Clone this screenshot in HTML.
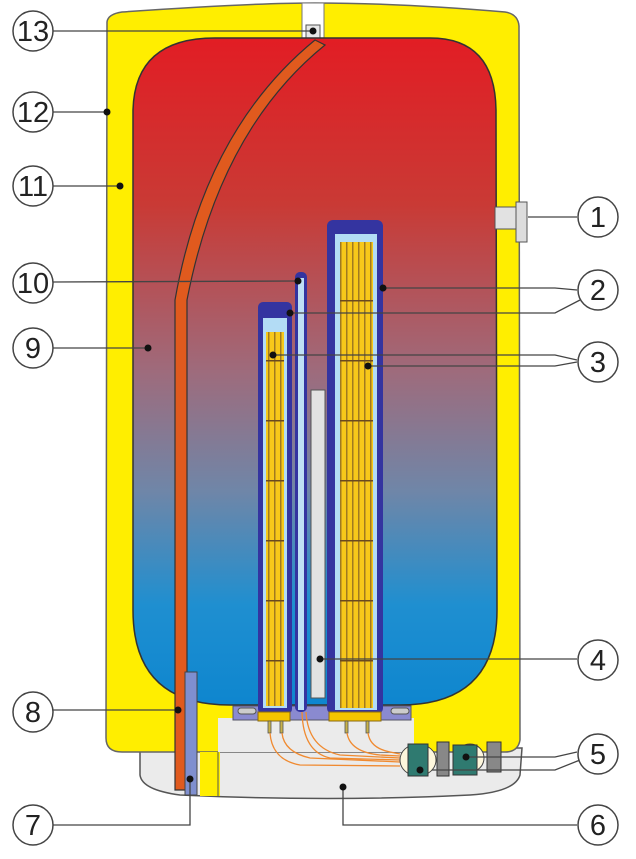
<!DOCTYPE html>
<html><head><meta charset="utf-8"><style>
html,body{margin:0;padding:0;background:#fff;}
svg{display:block;}
text{font-family:"Liberation Sans",sans-serif;font-size:29px;fill:#222;text-anchor:middle;}
</style></head><body>
<svg width="636" height="859" viewBox="0 0 636 859" xmlns="http://www.w3.org/2000/svg">
<defs>
<linearGradient id="tank" x1="0" y1="0" x2="0" y2="1">
<stop offset="0" stop-color="#e21d24"/>
<stop offset="0.25" stop-color="#c93a35"/>
<stop offset="0.5" stop-color="#9e6b7c"/>
<stop offset="0.68" stop-color="#6f86a8"/>
<stop offset="0.85" stop-color="#1f8fd0"/>
<stop offset="1" stop-color="#0e86cf"/>
</linearGradient>
<pattern id="coil" width="6" height="60" patternUnits="userSpaceOnUse">
<rect width="6" height="60" fill="#f7c81a"/>
<rect x="4" width="1.5" height="60" fill="#a07a20"/>
<rect y="0" width="6" height="1.5" fill="#6a4a20"/>
</pattern>
</defs>
<!-- base -->
<path d="M140 748 L522 748 L520 775 Q515 792 470 795 Q330 802 180 795 Q142 790 140 775 Z" fill="#ebebeb" stroke="#555" stroke-width="1.5"/>
<!-- outer body -->
<path d="M107 22 Q108 14 122 12 Q250 3 315 3 Q400 3 505 12 Q518 14 519 26 L520 740 Q518 752 505 752 L122 752 Q106 752 106 738 Z" fill="#ffee00" stroke="#666" stroke-width="1.5"/>
<rect x="302" y="3" width="22" height="36" fill="#fff" stroke="#777" stroke-width="1"/>
<rect x="306" y="25" width="14" height="13" fill="#e8e8e8" stroke="#555" stroke-width="1"/>
<!-- tank -->
<path d="M215 38 L430 38 Q495 38 496 110 L497 610 Q497 705 400 705 L230 705 Q133 705 133 610 L133 110 Q135 38 215 38 Z" fill="url(#tank)" stroke="#333" stroke-width="1.5"/>
<!-- bottom area -->
<rect x="218" y="718" width="196" height="34" fill="#ebebeb"/>
<rect x="200" y="752" width="20" height="44" fill="#ffee00"/>
<line x1="218" y1="752" x2="218" y2="796" stroke="#555"/>
<rect x="233" y="706" width="178" height="14" fill="#8a8ad0" stroke="#556" stroke-width="1"/>
<rect x="238" y="708" width="18" height="6" rx="3" fill="#ccc" stroke="#555"/>
<rect x="391" y="708" width="18" height="6" rx="3" fill="#ccc" stroke="#555"/>
<!-- pipe 9 -->
<path d="M315 40 L325 45 Q220 130 187 300 L187 790 L175 790 L175 300 Q205 130 315 40 Z" fill="#e05a1e" stroke="#333" stroke-width="1.2"/>
<!-- pipe 7 -->
<rect x="185" y="672" width="12" height="123" fill="#7f8fcf" stroke="#444" stroke-width="1"/>
<!-- left heater -->
<rect x="258" y="302" width="34" height="412" rx="5" fill="#3434a0"/>
<rect x="263" y="318" width="24" height="390" fill="#b3dcf5"/>
<rect x="266" y="332" width="18" height="374" fill="url(#coil)"/>
<rect x="258" y="712" width="32" height="9" fill="#f5c400" stroke="#8a6a10"/>
<!-- rod 10 -->
<rect x="295" y="272" width="12" height="440" rx="5" fill="#3434a0"/>
<rect x="298" y="278" width="6" height="432" fill="#bfe0f5"/>
<!-- anode 4 -->
<rect x="311" y="390" width="14" height="308" fill="#e2e2e2" stroke="#555" stroke-width="1"/>
<!-- right heater -->
<rect x="327" y="220" width="56" height="494" rx="6" fill="#3434a0"/>
<rect x="335" y="234" width="42" height="476" fill="#b3dcf5"/>
<rect x="340" y="242" width="33" height="466" fill="url(#coil)"/>
<rect x="329" y="712" width="52" height="9" fill="#f5c400" stroke="#8a6a10"/>
<!-- terminals -->
<g fill="#c9b24a" stroke="#555" stroke-width="0.8">
<rect x="268" y="721" width="3" height="12"/><rect x="280" y="721" width="3" height="12"/>
<rect x="345" y="721" width="3" height="12"/><rect x="366" y="721" width="3" height="12"/>
</g>
<!-- wires -->
<g fill="none" stroke="#f08a30" stroke-width="1.3">
<path d="M270 733 Q272 760 300 765 L400 766"/>
<path d="M282 733 Q284 752 310 758 L400 762"/>
<path d="M302 712 Q303 752 330 758 L400 760"/>
<path d="M306 712 Q308 748 340 755 L400 758"/>
<path d="M347 733 Q350 752 380 755 L400 756"/>
<path d="M368 733 Q370 748 390 752 L400 754"/>
</g>
<!-- connectors -->
<ellipse cx="418" cy="760" rx="18" ry="16" fill="#fdf6dc" stroke="#444"/>
<rect x="408" y="744" width="20" height="32" fill="#2f7a70" stroke="#333"/>
<rect x="437" y="742" width="12" height="34" fill="#888" stroke="#333"/>
<ellipse cx="470" cy="758" rx="14" ry="14" fill="#fdf6dc" stroke="#444"/>
<rect x="453" y="745" width="24" height="30" fill="#2f7a70" stroke="#333"/>
<rect x="487" y="742" width="14" height="30" fill="#888" stroke="#333"/>
<!-- right fitting 1 -->
<rect x="495" y="207" width="23" height="22" fill="#e2e2e2" stroke="#555"/>
<rect x="516" y="202" width="11" height="40" fill="#ddd" stroke="#555"/>
<!-- leader lines -->
<g stroke="#444" stroke-width="1.3" fill="none">
<line x1="53" y1="31" x2="313" y2="31"/>
<line x1="53" y1="112" x2="107" y2="112"/>
<line x1="53" y1="186" x2="120" y2="186"/>
<line x1="53" y1="282" x2="298" y2="281"/>
<line x1="53" y1="348" x2="148" y2="348"/>
<line x1="53" y1="710" x2="178" y2="710"/>
<polyline points="53,825 190,825 190,779"/>
<line x1="528" y1="217" x2="577" y2="217"/>
<polyline points="383,288 555,288 577,290"/>
<polyline points="290,313 555,313 580,300"/>
<polyline points="273,355 555,355 577,360"/>
<polyline points="368,366 555,366 577,362"/>
<line x1="320" y1="659" x2="577" y2="659"/>
<polyline points="466,757 555,757 577,752"/>
<polyline points="432,770 555,770 580,760"/>
<polyline points="343,787 343,825 577,825"/>
</g>
<g fill="#111">
<circle cx="313" cy="31" r="3.5"/><circle cx="107" cy="112" r="3.5"/><circle cx="120" cy="186" r="3.5"/>
<circle cx="298" cy="281" r="3.5"/><circle cx="148" cy="348" r="3.5"/><circle cx="178" cy="710" r="3.5"/>
<circle cx="190" cy="779" r="3.5"/><circle cx="383" cy="288" r="3.5"/><circle cx="290" cy="313" r="3.5"/>
<circle cx="273" cy="355" r="3.5"/><circle cx="368" cy="366" r="3.5"/><circle cx="320" cy="659" r="3.5"/>
<circle cx="466" cy="757" r="3.5"/><circle cx="420" cy="770" r="3.5"/><circle cx="343" cy="787" r="3.5"/>
</g>
<!-- label circles -->
<g fill="#fff" stroke="#444" stroke-width="1.5">
<circle cx="33" cy="31" r="20"/><circle cx="33" cy="112" r="20"/><circle cx="33" cy="186" r="20"/>
<circle cx="33" cy="283" r="20"/><circle cx="33" cy="348" r="20"/><circle cx="33" cy="712" r="20"/>
<circle cx="33" cy="825" r="20"/>
<circle cx="598" cy="217" r="20"/><circle cx="598" cy="290" r="20"/><circle cx="598" cy="362" r="20"/>
<circle cx="598" cy="660" r="20"/><circle cx="598" cy="754" r="20"/><circle cx="598" cy="825" r="20"/>
</g>
<text x="33" y="41">13</text><text x="33" y="122">12</text><text x="33" y="196">11</text>
<text x="33" y="293">10</text><text x="33" y="358">9</text><text x="33" y="722">8</text>
<text x="33" y="835">7</text>
<text x="598" y="227">1</text><text x="598" y="300">2</text><text x="598" y="372">3</text>
<text x="598" y="670">4</text><text x="598" y="764">5</text><text x="598" y="835">6</text>
</svg>
</body></html>
